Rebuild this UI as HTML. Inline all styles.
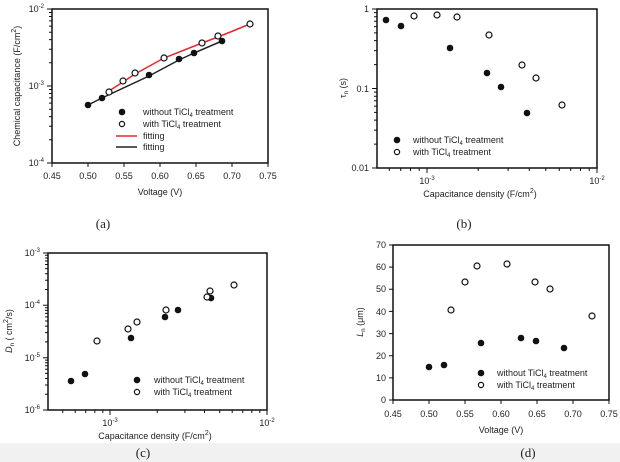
<!DOCTYPE html>
<html><head><meta charset="utf-8"><style>
html,body{margin:0;padding:0;background:#fff;}
svg{display:block;font-family:"Liberation Sans",Arial,sans-serif;}
.t{font-size:9px;fill:#222;}
.s{font-size:6px;fill:#222;}
.l{font-size:9px;fill:#222;}
.c{font-family:"Liberation Serif",serif;font-size:13px;fill:#222;}
</style></head><body>
<svg width="620" height="462" viewBox="0 0 620 462" xmlns="http://www.w3.org/2000/svg">
<rect x="0" y="443" width="620" height="19" fill="#f1f1f1"/>
<g stroke="#111" fill="none" stroke-width="1">
<rect x="52" y="9" width="216" height="154" stroke-width="1.5"/>
<path d="M52,163v4M88,163v4M124,163v4M160,163v4M196,163v4M232,163v4M268,163v4"/>
<path d="M52,9h-5M52,86h-5M52,163h-5"/>
<path d="M52,139.8h-3M52,126.3h-3M52,116.6h-3M52,109.2h-3M52,103.1h-3M52,97.9h-3M52,93.5h-3M52,89.5h-3M52,62.8h-3M52,49.3h-3M52,39.6h-3M52,32.2h-3M52,26.1h-3M52,20.9h-3M52,16.5h-3M52,12.5h-3"/>
<rect x="377" y="9" width="220" height="159" stroke-width="1.5"/>
<path d="M377,9h-5M377,88.5h-5M377,168h-5"/>
<path d="M377,144.1h-3M377,130.1h-3M377,120.1h-3M377,112.4h-3M377,106.1h-3M377,100.8h-3M377,96.2h-3M377,92.1h-3M377,64.6h-3M377,50.6h-3M377,40.6h-3M377,32.9h-3M377,26.6h-3M377,21.3h-3M377,16.7h-3M377,12.6h-3"/>
<path d="M427,168v5M597,168v5M389.3,168v3M400.7,168v3M410.5,168v3M419.2,168v3M478.2,168v3M508.1,168v3M529.3,168v3M545.8,168v3M559.3,168v3M570.7,168v3M580.5,168v3M589.2,168v3"/>
<rect x="48" y="253" width="219" height="157" stroke-width="1.5"/>
<path d="M48,253h-5M48,305.3h-5M48,357.7h-5M48,410h-5"/>
<path d="M48,394.3h-3M48,385h-3M48,378.5h-3M48,373.4h-3M48,369.3h-3M48,365.8h-3M48,362.8h-3M48,360.1h-3M48,341.9h-3M48,332.6h-3M48,326.1h-3M48,321h-3M48,316.9h-3M48,313.4h-3M48,310.4h-3M48,307.7h-3M48,289.5h-3M48,280.2h-3M48,273.7h-3M48,268.6h-3M48,264.5h-3M48,261h-3M48,258h-3M48,255.3h-3"/>
<path d="M110,410v5M267,410v5M62.7,410v3M75.2,410v3M85.7,410v3M94.8,410v3M102.8,410v3M157.3,410v3M184.9,410v3M204.5,410v3M219.7,410v3M232.2,410v3M242.7,410v3M251.8,410v3M259.8,410v3"/>
<rect x="393" y="245" width="216" height="155" stroke-width="1.5"/>
<path d="M393,400h-4M393,377.9h-4M393,355.7h-4M393,333.6h-4M393,311.4h-4M393,289.3h-4M393,267.1h-4M393,245h-4"/>
<path d="M393,400v4M429,400v4M465,400v4M501,400v4M537,400v4M573,400v4M609,400v4"/>
</g>
<polyline points="88,105 102,98 149,76 179,60 194,53 222,41" fill="none" stroke="#222" stroke-width="1.5"/>
<polyline points="109,91 123,82 135,74 164,58 202,43 218,37 250,24" fill="none" stroke="#e8262a" stroke-width="1.5"/>
<g fill="#111">
<circle cx="88" cy="105" r="3.3"/><circle cx="102" cy="98" r="3.3"/><circle cx="149" cy="75" r="3.3"/><circle cx="179" cy="59" r="3.3"/><circle cx="194" cy="53" r="3.3"/><circle cx="222" cy="41" r="3.3"/>
<circle cx="386" cy="20" r="3.3"/><circle cx="401" cy="26" r="3.3"/><circle cx="450" cy="48" r="3.3"/><circle cx="487" cy="73" r="3.3"/><circle cx="501" cy="87" r="3.3"/><circle cx="527" cy="113" r="3.3"/>
<circle cx="71" cy="381" r="3.3"/><circle cx="85" cy="374" r="3.3"/><circle cx="131" cy="338" r="3.3"/><circle cx="165" cy="317" r="3.3"/><circle cx="178" cy="310" r="3.3"/><circle cx="211" cy="298" r="3.3"/>
<circle cx="429" cy="367" r="3.3"/><circle cx="444" cy="365" r="3.3"/><circle cx="481" cy="343" r="3.3"/><circle cx="521" cy="338" r="3.3"/><circle cx="536" cy="341" r="3.3"/><circle cx="564" cy="348" r="3.3"/>
<circle cx="122" cy="112" r="3.3"/><circle cx="397" cy="140" r="3.3"/><circle cx="137" cy="380" r="3.3"/><circle cx="481" cy="373" r="3.3"/>
</g>
<g fill="#fff" stroke="#111" stroke-width="1.2">
<circle cx="109" cy="92" r="3"/><circle cx="123" cy="81" r="3"/><circle cx="135" cy="73" r="3"/><circle cx="164" cy="58" r="3"/><circle cx="202" cy="43" r="3"/><circle cx="218" cy="36" r="3"/><circle cx="250" cy="24" r="3"/>
<circle cx="414" cy="16" r="3"/><circle cx="437" cy="15" r="3"/><circle cx="457" cy="17" r="3"/><circle cx="489" cy="35" r="3"/><circle cx="522" cy="65" r="3"/><circle cx="536" cy="78" r="3"/><circle cx="562" cy="105" r="3"/>
<circle cx="97" cy="341" r="3"/><circle cx="128" cy="329" r="3"/><circle cx="137" cy="322" r="3"/><circle cx="166" cy="310" r="3"/><circle cx="207" cy="297" r="3"/><circle cx="210" cy="291" r="3"/><circle cx="234" cy="285" r="3"/>
<circle cx="451" cy="310" r="3"/><circle cx="465" cy="282" r="3"/><circle cx="477" cy="266" r="3"/><circle cx="507" cy="264" r="3"/><circle cx="535" cy="282" r="3"/><circle cx="550" cy="289" r="3"/><circle cx="592" cy="316" r="3"/>
<circle cx="122" cy="124" r="2.6"/><circle cx="397" cy="152" r="2.6"/><circle cx="137" cy="392" r="2.6"/><circle cx="481" cy="385" r="2.6"/>
</g>
<line x1="116" y1="136" x2="137" y2="136" stroke="#e8262a" stroke-width="1.5"/>
<line x1="116" y1="147" x2="137" y2="147" stroke="#222" stroke-width="1.5"/>
<text class="l" x="143" y="115">without TiCl<tspan class="s" dy="2">4</tspan><tspan dy="-2"> treatment</tspan></text>
<text class="l" x="143" y="127">with TiCl<tspan class="s" dy="2">4</tspan><tspan dy="-2"> treatment</tspan></text>
<text class="l" x="143" y="139">fitting</text>
<text class="l" x="143" y="150">fitting</text>
<text class="l" x="413" y="143">without TiCl<tspan class="s" dy="2">4</tspan><tspan dy="-2"> treatment</tspan></text>
<text class="l" x="413" y="155">with TiCl<tspan class="s" dy="2">4</tspan><tspan dy="-2"> treatment</tspan></text>
<text class="l" x="154" y="383">without TiCl<tspan class="s" dy="2">4</tspan><tspan dy="-2"> treatment</tspan></text>
<text class="l" x="154" y="395">with TiCl<tspan class="s" dy="2">4</tspan><tspan dy="-2"> treatment</tspan></text>
<text class="l" x="497" y="376">without TiCl<tspan class="s" dy="2">4</tspan><tspan dy="-2"> treatment</tspan></text>
<text class="l" x="497" y="388">with TiCl<tspan class="s" dy="2">4</tspan><tspan dy="-2"> treatment</tspan></text>
<g class="t" text-anchor="middle">
<text x="52" y="179">0.45</text><text x="88" y="179">0.50</text><text x="124" y="179">0.55</text><text x="160" y="179">0.60</text><text x="196" y="179">0.65</text><text x="232" y="179">0.70</text><text x="268" y="179">0.75</text>
<text x="160" y="195">Voltage (V)</text>
<text x="393" y="417">0.45</text><text x="429" y="417">0.50</text><text x="465" y="417">0.55</text><text x="501" y="417">0.60</text><text x="537" y="417">0.65</text><text x="573" y="417">0.70</text><text x="609" y="417">0.75</text>
<text x="501" y="433">Voltage (V)</text>
</g>
<g class="t" text-anchor="end">
<text x="44" y="12">10<tspan class="s" dy="-4">-2</tspan></text>
<text x="44" y="89">10<tspan class="s" dy="-4">-3</tspan></text>
<text x="44" y="166">10<tspan class="s" dy="-4">-4</tspan></text>
<text x="369" y="12">1</text><text x="369" y="92">0.1</text><text x="369" y="171">0.01</text>
<text x="40" y="256">10<tspan class="s" dy="-4">-3</tspan></text>
<text x="40" y="308">10<tspan class="s" dy="-4">-4</tspan></text>
<text x="40" y="361">10<tspan class="s" dy="-4">-5</tspan></text>
<text x="40" y="413">10<tspan class="s" dy="-4">-6</tspan></text>
<text x="386" y="248">70</text><text x="386" y="270">60</text><text x="386" y="292">50</text><text x="386" y="315">40</text><text x="386" y="337">30</text><text x="386" y="359">20</text><text x="386" y="381">10</text><text x="386" y="403">0</text>
</g>
<g class="t" text-anchor="middle">
<text x="427" y="184">10<tspan class="s" dy="-4">-3</tspan></text>
<text x="597" y="184">10<tspan class="s" dy="-4">-2</tspan></text>
<text x="480" y="197">Capacitance density (F/cm<tspan font-size="7" dy="-4">2</tspan><tspan dy="4">)</tspan></text>
<text x="110" y="426">10<tspan class="s" dy="-4">-3</tspan></text>
<text x="267" y="426">10<tspan class="s" dy="-4">-2</tspan></text>
<text x="155" y="439">Capacitance density (F/cm<tspan font-size="7" dy="-4">2</tspan><tspan dy="4">)</tspan></text>
</g>
<text class="t" transform="translate(20,86) rotate(-90)" text-anchor="middle">Chemical capacitance (F/cm<tspan font-size="7" dy="-4">2</tspan><tspan dy="4">)</tspan></text>
<text class="t" transform="translate(346,88) rotate(-90)" text-anchor="middle">τ<tspan class="s" dy="2">n</tspan><tspan dy="-2"> (s)</tspan></text>
<text class="t" transform="translate(12,331) rotate(-90)" text-anchor="middle"><tspan font-style="italic">D</tspan><tspan class="s" dy="2">n</tspan><tspan dy="-2"> ( cm</tspan><tspan font-size="7" dy="-4">2</tspan><tspan dy="4">/s)</tspan></text>
<text class="t" transform="translate(363,322) rotate(-90)" text-anchor="middle"><tspan font-style="italic">L</tspan><tspan class="s" dy="2">n</tspan><tspan dy="-2"> (μm)</tspan></text>
<g class="c" text-anchor="middle">
<text x="103" y="228">(a)</text><text x="464" y="228">(b)</text><text x="143" y="457">(c)</text><text x="528" y="457">(d)</text>
</g>
</svg>
</body></html>
